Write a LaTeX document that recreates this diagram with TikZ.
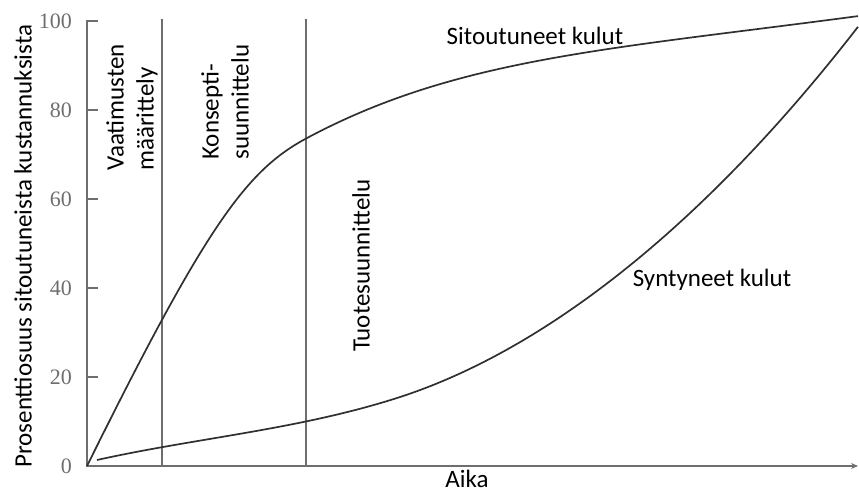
\documentclass[tikz,border=0pt]{standalone}
\usepackage{fontspec}
\setmainfont{Carlito}
\newfontfamily\ticknumfont{Liberation Serif}
\usetikzlibrary{arrows.meta,positioning}
\definecolor{axisgray}{HTML}{6E6E6E}
\definecolor{curvegray}{HTML}{303030}
\tikzset{
  kaxis/.style={draw=axisgray, line width=1.4bp},
  kphase/.style={draw=axisgray, line width=1.4bp},
  kcurve/.style={draw=curvegray, line width=1.7bp},
  klabel/.style={font=\fontsize{25bp}{30bp}\selectfont, inner sep=0pt},
  kphaselabel/.style={klabel, rotate=90, anchor=west, align=left},
  ktick/.style={font=\ticknumfont\fontsize{22bp}{24bp}\selectfont, text=axisgray, anchor=east, inner sep=0pt}
}

\begin{document}
\begin{tikzpicture}[x=1bp,y=4.45bp]
\useasboundingbox (-87,-6.29) rectangle (772,104.72);
% axes
\coordinate (origo) at (0,0);
\coordinate (ytop) at (0,100);
\coordinate (xend) at (771,0);
\draw[kaxis, -{Stealth[length=7bp,width=6bp]}] ([xshift=11bp]ytop) -- (ytop) -- (origo) -- (xend);
\foreach \v in {20,40,60,80}
  \draw[kaxis] (0,\v) -- (11,\v);
\foreach \v in {0,20,40,60,80,100}
  \node[ktick] (tick\v) at (-15,\v) {\v};
% phase borders
\coordinate (raja1) at (75,0);
\coordinate (raja2) at (219,0);
\draw[kphase] (raja1) -- ++(0,100.5);
\draw[kphase] (raja2) -- ++(0,100.5);
% curves
\coordinate (sitA) at (220,73.7);
\coordinate (sitB) at (771,101.1);
\draw[kcurve] (origo) .. controls (120,54.5) and (160,66.5) .. (sitA)
  .. controls (370,91.7) and (521,93.6) .. (sitB);
\coordinate (synA) at (10,1.35);
\coordinate (synB) at (313,15.5);
\coordinate (synC) at (771,98.7);
\draw[kcurve] (synA) .. controls (110,6.35) and (213,8.2) .. (synB)
  .. controls (463,26.5) and (621,55.2) .. (synC);
% labels
\node[klabel, rotate=90] (ylabel) at (-64,49.4) {Prosenttiosuus sitoutuneista kustannuksista};
\node[klabel] (xlabel) at (380,-3.0) {Aika};
\node[kphaselabel] (vaatimus) at (45,66.3) {Vaatimusten\\määrittely};
\node[kphaselabel] (konsepti) at (138,68.8) {Konsepti-\\suunnittelu};
\node[kphaselabel] (tuote) at (274,25.6) {Tuotesuunnittelu};
\node[klabel] (sitoutuneet) at (448,96.6) {Sitoutuneet kulut};
\node[klabel] (syntyneet) at (625,41.8) {Syntyneet kulut};
\end{tikzpicture}
\end{document}
